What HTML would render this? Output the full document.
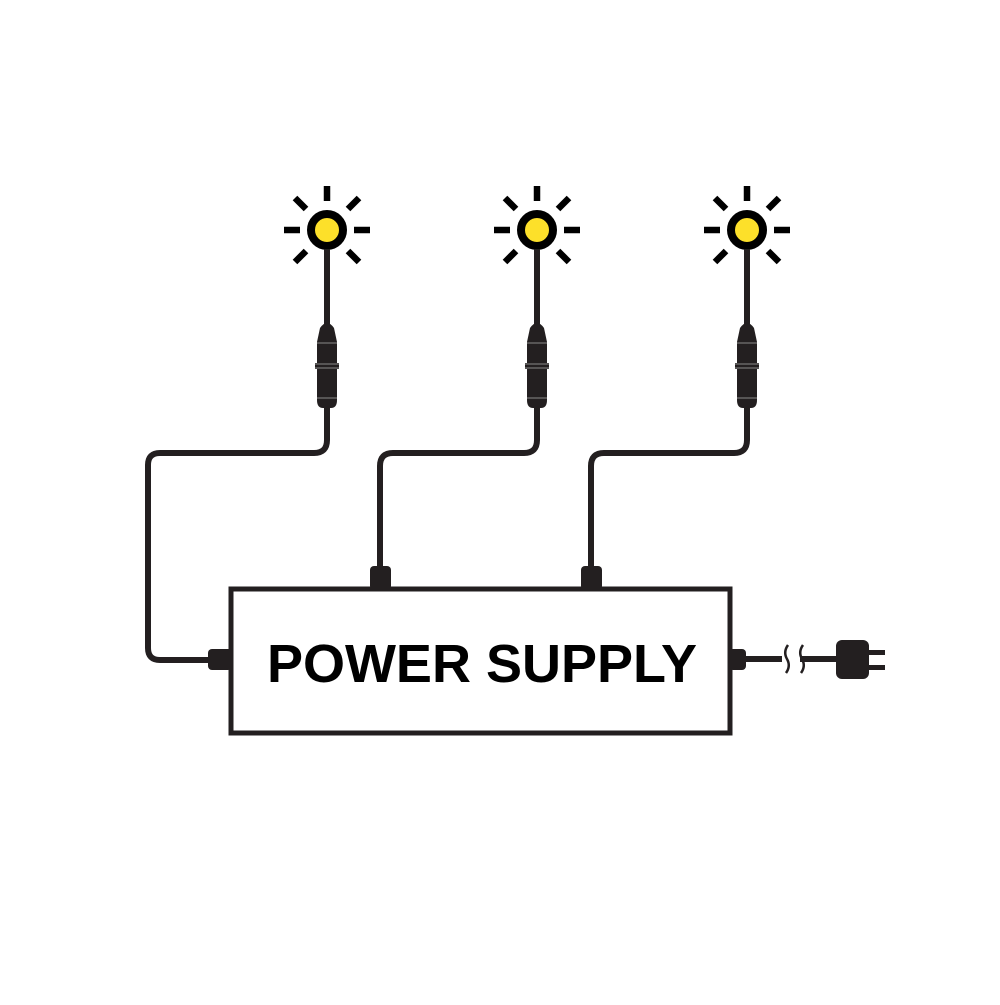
<!DOCTYPE html>
<html><head><style>body{margin:0;background:#fff}</style></head><body>
<svg width="1000" height="1000" viewBox="0 0 1000 1000" xmlns="http://www.w3.org/2000/svg">
<defs>
<g id="sun">
<circle cx="0" cy="0" r="16" fill="#fde02a" stroke="#000" stroke-width="8"/>
<g stroke="#000" stroke-width="6.5">
<line x1="0" y1="-44" x2="0" y2="-29"/>
<line x1="-43" y1="0" x2="-27" y2="0"/>
<line x1="27" y1="0" x2="43" y2="0"/>
<line x1="-21" y1="-21" x2="-32" y2="-32"/>
<line x1="21" y1="-21" x2="32" y2="-32"/>
<line x1="-21" y1="21" x2="-32" y2="32"/>
<line x1="21" y1="21" x2="32" y2="32"/>
</g>
<line x1="0" y1="19" x2="0" y2="100" stroke="#231f20" stroke-width="6"/>
<path d="M-7,98 Q0,88 7,98 L10,112 L10,170 Q10,178 4,178 L-4,178 Q-10,178 -10,170 L-10,112 Z" fill="#231f20"/>
<rect x="-12" y="133" width="24" height="6" fill="#231f20"/>
<g stroke="#888" stroke-width="1"><line x1="-10" y1="113" x2="10" y2="113"/><line x1="-12" y1="134" x2="12" y2="134"/><line x1="-12" y1="138" x2="12" y2="138"/><line x1="-10" y1="168" x2="10" y2="168"/></g>
</g>
</defs>
<g fill="none" stroke="#231f20" stroke-width="6" stroke-linejoin="round">
<path d="M327,405 V440 Q327,453 314,453 H160 Q148,453 148,465 V648 Q148,660 160,660 H215"/>
<path d="M537,405 V440 Q537,453 524,453 H393 Q380,453 380,466 V575"/>
<path d="M747,405 V440 Q747,453 734,453 H604 Q591,453 591,466 V575"/>
<path d="M740,659 H782 M800,659 H840"/>
<path d="M788,645 Q783,652 787,659 Q791,666 786,673 M803,645 Q798,652 802,659 Q806,666 801,673" stroke-width="2.5"/>
</g>
<use href="#sun" x="327" y="230"/>
<use href="#sun" x="537" y="230"/>
<use href="#sun" x="747" y="230"/>
<g fill="#231f20">
<rect x="208" y="649" width="24" height="21" rx="4"/>
<rect x="370" y="566" width="21" height="24" rx="4"/>
<rect x="581" y="566" width="21" height="24" rx="4"/>
<rect x="729" y="649" width="17" height="21" rx="4"/>
<rect x="836" y="640" width="33" height="39" rx="6"/>
<rect x="866" y="650" width="19" height="5"/>
<rect x="866" y="665" width="19" height="5"/>
</g>
<rect x="231" y="589" width="499" height="144" fill="none" stroke="#231f20" stroke-width="5"/>
<text x="482" y="682" text-anchor="middle" font-family="Liberation Sans, sans-serif" font-weight="bold" font-size="54" fill="#000">POWER SUPPLY</text>
</svg>
</body></html>
